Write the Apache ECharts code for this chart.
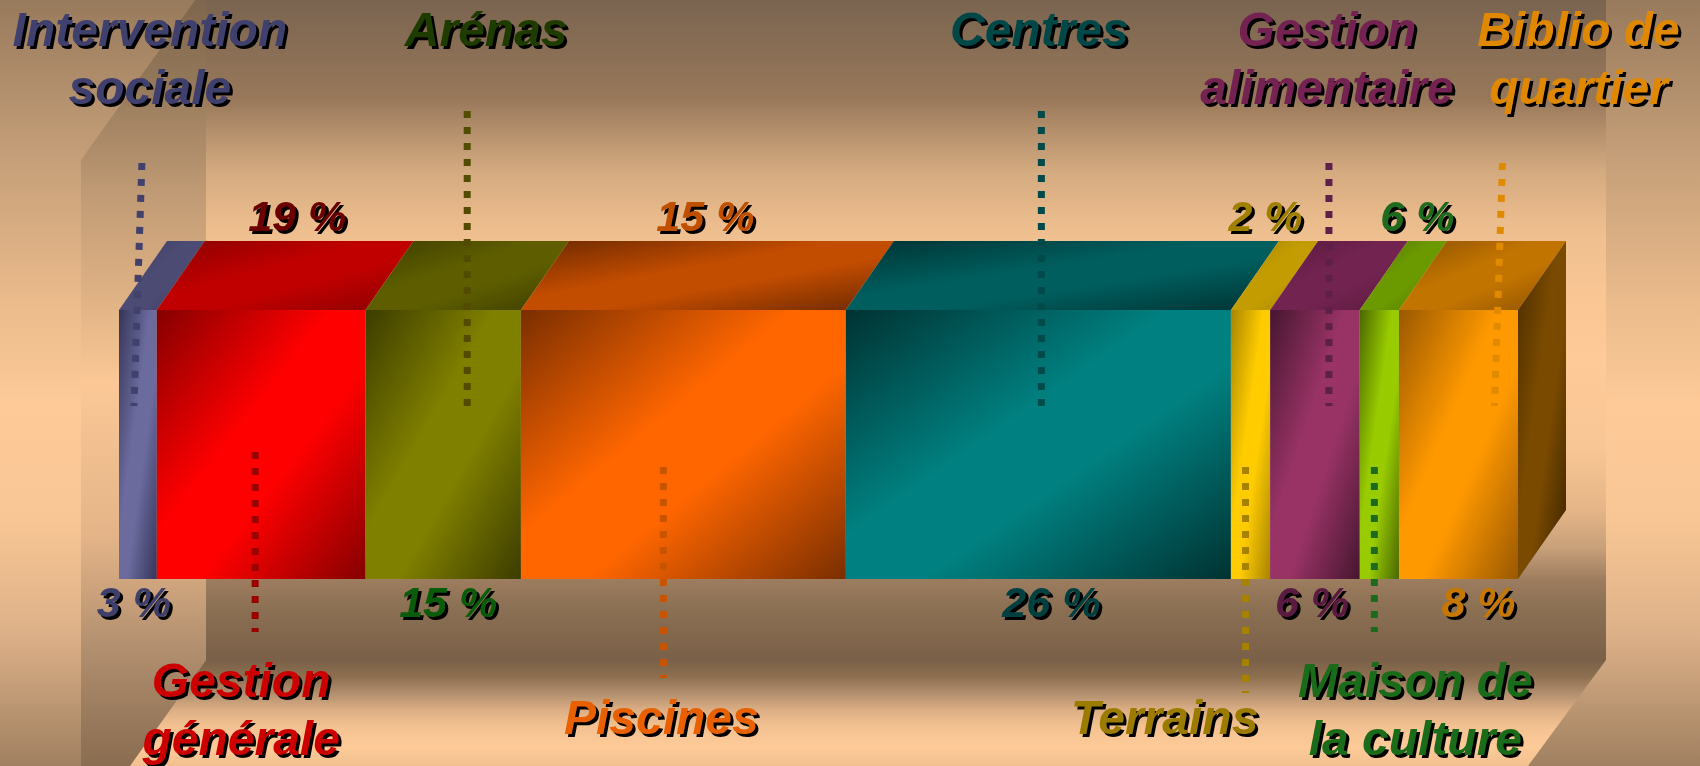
<!DOCTYPE html>
<html>
<head>
<meta charset="utf-8">
<script src="https://cdn.jsdelivr.net/npm/echarts@6/dist/echarts.min.js"></script>
<style>
  html, body { margin: 0; padding: 0; }
  #container { width: 1700px; height: 766px; }
</style>
</head>
<body>
<div id="container"></div>
<script>
// data
const categories = ['Intervention\nsociale', 'Gestion\ngénérale', 'Arénas', 'Piscines', 'Centres',
  'Terrains', 'Gestion\nalimentaire', 'Maison de\nla culture', 'Biblio de\nquartier'];
// widths of the slices as drawn (percent of the whole bar)
const shares = [2.7, 14.9, 11.1, 23.2, 27.5, 2.8, 6.4, 2.8, 8.5];
// percentages printed next to each slice
const pctLabels = ['3 %', '19 %', '15 %', '15 %', '26 %', '2 %', '6 %', '6 %', '8 %'];

// colours: front bright / front dark / top / top dark
const frontBright = ['#6b6b9e', '#ff0000', '#808000', '#ff6600', '#008080', '#ffcc00', '#993366', '#99cc00', '#ff9900'];
const frontDark = ['#35355a', '#850000', '#3c3c00', '#7a2e00', '#003232', '#a88400', '#46162f', '#4a6800', '#9a5800'];
const topColor = ['#4b4b74', '#c00000', '#5e5e00', '#c24c00', '#005e5e', '#c29c00', '#732350', '#6b9900', '#c27400'];
const topDark = ['#3a3a5e', '#8a0000', '#3c3c00', '#6a2800', '#003232', '#a08000', '#561a3c', '#4e7000', '#8a5000'];
const nameColor = ['#40406e', '#cc0000', '#1f3c00', '#e86000', '#004848', '#9c7c00', '#742252', '#1a6b1a', '#e08800'];
const leaderColor = ['#41416b', '#9a0000', '#524c00', '#c85400', '#004a4a', '#a68200', '#5e1f48', '#1c6b1c', '#e08a00'];
const pctColor = ['#3f3f6c', '#6b0000', '#0a5c0a', '#c05000', '#004040', '#a08000', '#5a1a42', '#1e6a1e', '#c87800'];

// label placement (pixel nudges from slice centre)
const nameDx = [12, -20, 43, -22, 1, -86, 12, 36, 120];
const pctDx = [-4, 36, 5, 22, 13, 15, -3, 38, 20];
const leaderDx = [0, -6, 24, -20, 3, -5, 14, -5, 40];
const leaderTilt = [8, 0, 0, 0, 0, 0, 0, 0, 8];
const leaderY = [[163, 406], [452, 632], [111, 406], [467, 678], [111, 406],
  [467, 693], [163, 406], [467, 632], [163, 406]];

const DX = 48, DY = -69;
const FONT = 'italic bold 48px "Liberation Sans", Arial, sans-serif';
const PFONT = 'italic bold 43px "Liberation Sans", Arial, sans-serif';

const total = shares.reduce((a, b) => a + b, 0);
let acc = 0;
const segData = shares.map((v, i) => {
  const row = [acc, acc + v, i];
  acc += v;
  return row;
});

// diagonal gradient scaled with the shape (dark corner, bright middle, dark corner)
const diag = (w, h, dark, bright, dark2) => {
  const d = w * w + h * h;
  return new echarts.graphic.LinearGradient(0, 0, 2 * h * h / d, 2 * w * w / d, [
    { offset: 0, color: dark },
    { offset: 0.42, color: bright },
    { offset: 0.6, color: bright },
    { offset: 1, color: dark2 }
  ]);
};

const vgrad = (y0, y1, stops) => new echarts.graphic.LinearGradient(0, y0, 0, y1,
  stops.map(([o, c]) => ({ offset: o, color: c })), true);

// text with a hard black drop shadow (drawn as a second text behind)
const shadowText = (style) => [
  { type: 'text', z2: 19, style: Object.assign({}, style, { x: style.x + 3, y: style.y + 3, fill: '#000' }) },
  { type: 'text', z2: 20, style: style }
];

const renderSlice = (params, api) => {
  const i = api.value(2);
  const bl = api.coord([api.value(0), 0]);
  const tr = api.coord([api.value(1), 1]);
  const x0 = bl[0], x1 = tr[0], yT = tr[1], yB = bl[1];
  const w = x1 - x0, h = yB - yT;
  const cx = (x0 + x1) / 2;
  const onTop = i % 2 === 0;
  const lines = categories[i].split('\n').length;

  const children = [
    {
      type: 'rect',
      shape: { x: x0, y: yT, width: w, height: h },
      style: { fill: diag(w, h, frontDark[i], frontBright[i], frontDark[i]) }
    },
    {
      type: 'polygon',
      shape: { points: [[x0, yT], [x1, yT], [x1 + DX, yT + DY], [x0 + DX, yT + DY]] },
      style: { fill: diag(w + DX, -DY, topDark[i], topColor[i], topDark[i]) }
    }
  ];

  if (i === shares.length - 1) {
    children.push({
      type: 'polygon',
      shape: { points: [[x1, yT], [x1 + DX, yT + DY], [x1 + DX, yB + DY], [x1, yB]] },
      style: { fill: diag(DX, h - DY, '#4a2c00', '#7a4a00', '#3a2200') }
    });
  }

  const lx = cx + leaderDx[i];
  children.push({
    type: 'line',
    z2: 10,
    shape: { x1: lx + leaderTilt[i] / 2, y1: leaderY[i][0], x2: lx - leaderTilt[i] / 2, y2: leaderY[i][1] },
    style: { stroke: leaderColor[i], lineWidth: 7, lineDash: [7, 9] }
  });

  children.push(...shadowText({
    text: categories[i],
    x: cx + nameDx[i],
    y: onTop ? 4 : (lines > 1 ? 713 : 721),
    font: FONT,
    lineHeight: 58,
    fill: nameColor[i],
    align: 'center',
    verticalAlign: onTop ? 'top' : 'middle'
  }));

  children.push(...shadowText({
    text: pctLabels[i],
    x: cx + pctDx[i],
    y: onTop ? yB + 26 : yT + DY - 22,
    font: PFONT,
    fill: pctColor[i],
    align: 'center',
    verticalAlign: 'middle'
  }));

  return { type: 'group', children };
};

const chart = echarts.init(document.getElementById('container'));

const option = {
  animation: false,
  grid: { left: 119, top: 310, width: 1399, height: 269 },
  xAxis: { type: 'value', min: 0, max: total, show: false },
  yAxis: { type: 'value', min: 0, max: 1, show: false },
  graphic: [
    {
      type: 'rect', z: 0, silent: true,
      shape: { x: 0, y: 0, width: 1700, height: 766 },
      style: {
        fill: vgrad(0, 766, [[0, '#987a5c'], [0.2, '#c49e78'], [0.4, '#ecbc8c'], [0.53, '#fdca98'],
          [0.68, '#f8c694'], [0.83, '#dcb088'], [1, '#a08060']])
      }
    },
    {
      type: 'polygon', z: 0, silent: true,
      shape: { points: [[81, 160], [206, -15], [206, 660], [130, 766], [81, 766]] },
      style: {
        fill: vgrad(0, 766, [[0, '#7e664e'], [0.1, '#927658'], [0.26, '#c29c76'], [0.4, '#e2b486'],
          [0.5, '#fbc896'], [0.7, '#e4b488'], [0.85, '#b08e6e'], [1, '#8a6c50']])
      }
    },
    {
      type: 'rect', z: 0, silent: true,
      shape: { x: 206, y: 0, width: 1400, height: 660 },
      style: {
        fill: vgrad(0, 660, [[0, '#7a6450'], [0.15, '#98785a'], [0.2, '#b5906c'], [0.26, '#d4aa80'],
          [0.333, '#eabb8c'], [0.364, '#f0c090'], [0.455, '#fac794'], [0.55, '#fdca98'], [0.68, '#f8c694'],
          [0.77, '#e6b688'], [0.83, '#c8a07a'], [0.88, '#9c7c5e'], [0.92, '#8c7054'], [1, '#7a6048']])
      }
    },
    {
      type: 'polygon', z: 0, silent: true,
      shape: { points: [[206, 660], [1606, 660], [1528, 766], [130, 766]] },
      style: {
        fill: vgrad(660, 766, [[0, '#7a6048'], [0.16, '#8e7050'], [0.31, '#b08e6e'], [0.47, '#dcae84'],
          [0.63, '#f4c292'], [0.82, '#fdca98'], [1, '#f2c090']])
      }
    }
  ],
  series: [
    {
      type: 'custom',
      z: 10,
      clip: false,
      renderItem: renderSlice,
      encode: { x: [0, 1] },
      data: segData
    }
  ]
};

chart.setOption(option);
</script>
</body>
</html>
